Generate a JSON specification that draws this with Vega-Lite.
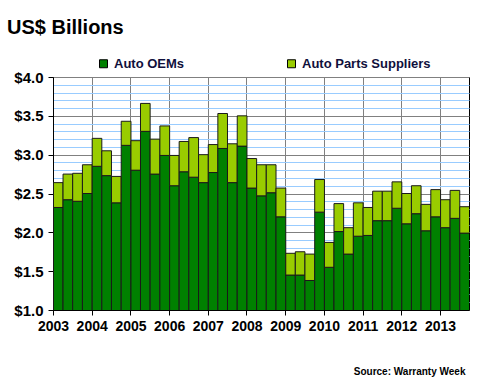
{
  "$schema": "https://vega.github.io/schema/vega-lite/v6.json",
  "width": 416,
  "height": 233,
  "autosize": {"type": "none"},
  "padding": {"left": 53, "top": 77, "right": 11, "bottom": 70},
  "background": "white",
  "title": {
    "text": "US$ Billions",
    "anchor": "start",
    "frame": "group",
    "font": "Liberation Sans",
    "fontSize": 20,
    "fontWeight": "bold",
    "color": "#000000",
    "dx": -46,
    "dy": -9,
    "offset": 10
  },
  "config": {
    "view": {"stroke": "#000000", "strokeWidth": 1},
    "axis": {"labelFont": "Liberation Sans", "titleFont": "Liberation Sans"},
    "legend": {"labelFont": "Liberation Sans"}
  },
  "data": {
    "values": [
      {"quarter": "2003-01-01", "Auto OEMs": 2.32, "Auto Parts Suppliers": 0.32},
      {"quarter": "2003-04-01", "Auto OEMs": 2.42, "Auto Parts Suppliers": 0.33},
      {"quarter": "2003-07-01", "Auto OEMs": 2.40, "Auto Parts Suppliers": 0.36},
      {"quarter": "2003-10-01", "Auto OEMs": 2.50, "Auto Parts Suppliers": 0.37},
      {"quarter": "2004-01-01", "Auto OEMs": 2.85, "Auto Parts Suppliers": 0.36},
      {"quarter": "2004-04-01", "Auto OEMs": 2.73, "Auto Parts Suppliers": 0.32},
      {"quarter": "2004-07-01", "Auto OEMs": 2.38, "Auto Parts Suppliers": 0.34},
      {"quarter": "2004-10-01", "Auto OEMs": 3.12, "Auto Parts Suppliers": 0.31},
      {"quarter": "2005-01-01", "Auto OEMs": 2.80, "Auto Parts Suppliers": 0.38},
      {"quarter": "2005-04-01", "Auto OEMs": 3.30, "Auto Parts Suppliers": 0.36},
      {"quarter": "2005-07-01", "Auto OEMs": 2.75, "Auto Parts Suppliers": 0.45},
      {"quarter": "2005-10-01", "Auto OEMs": 2.99, "Auto Parts Suppliers": 0.38},
      {"quarter": "2006-01-01", "Auto OEMs": 2.60, "Auto Parts Suppliers": 0.39},
      {"quarter": "2006-04-01", "Auto OEMs": 2.78, "Auto Parts Suppliers": 0.39},
      {"quarter": "2006-07-01", "Auto OEMs": 2.71, "Auto Parts Suppliers": 0.51},
      {"quarter": "2006-10-01", "Auto OEMs": 2.64, "Auto Parts Suppliers": 0.36},
      {"quarter": "2007-01-01", "Auto OEMs": 2.77, "Auto Parts Suppliers": 0.36},
      {"quarter": "2007-04-01", "Auto OEMs": 3.08, "Auto Parts Suppliers": 0.45},
      {"quarter": "2007-07-01", "Auto OEMs": 2.64, "Auto Parts Suppliers": 0.50},
      {"quarter": "2007-10-01", "Auto OEMs": 3.11, "Auto Parts Suppliers": 0.39},
      {"quarter": "2008-01-01", "Auto OEMs": 2.57, "Auto Parts Suppliers": 0.38},
      {"quarter": "2008-04-01", "Auto OEMs": 2.47, "Auto Parts Suppliers": 0.40},
      {"quarter": "2008-07-01", "Auto OEMs": 2.51, "Auto Parts Suppliers": 0.36},
      {"quarter": "2008-10-01", "Auto OEMs": 2.20, "Auto Parts Suppliers": 0.37},
      {"quarter": "2009-01-01", "Auto OEMs": 1.45, "Auto Parts Suppliers": 0.28},
      {"quarter": "2009-04-01", "Auto OEMs": 1.45, "Auto Parts Suppliers": 0.30},
      {"quarter": "2009-07-01", "Auto OEMs": 1.38, "Auto Parts Suppliers": 0.34},
      {"quarter": "2009-10-01", "Auto OEMs": 2.26, "Auto Parts Suppliers": 0.42},
      {"quarter": "2010-01-01", "Auto OEMs": 1.55, "Auto Parts Suppliers": 0.32},
      {"quarter": "2010-04-01", "Auto OEMs": 2.01, "Auto Parts Suppliers": 0.36},
      {"quarter": "2010-07-01", "Auto OEMs": 1.72, "Auto Parts Suppliers": 0.34},
      {"quarter": "2010-10-01", "Auto OEMs": 1.95, "Auto Parts Suppliers": 0.43},
      {"quarter": "2011-01-01", "Auto OEMs": 1.96, "Auto Parts Suppliers": 0.36},
      {"quarter": "2011-04-01", "Auto OEMs": 2.15, "Auto Parts Suppliers": 0.38},
      {"quarter": "2011-07-01", "Auto OEMs": 2.15, "Auto Parts Suppliers": 0.38},
      {"quarter": "2011-10-01", "Auto OEMs": 2.31, "Auto Parts Suppliers": 0.34},
      {"quarter": "2012-01-01", "Auto OEMs": 2.11, "Auto Parts Suppliers": 0.39},
      {"quarter": "2012-04-01", "Auto OEMs": 2.24, "Auto Parts Suppliers": 0.36},
      {"quarter": "2012-07-01", "Auto OEMs": 2.02, "Auto Parts Suppliers": 0.34},
      {"quarter": "2012-10-01", "Auto OEMs": 2.20, "Auto Parts Suppliers": 0.35},
      {"quarter": "2013-01-01", "Auto OEMs": 2.06, "Auto Parts Suppliers": 0.36},
      {"quarter": "2013-04-01", "Auto OEMs": 2.18, "Auto Parts Suppliers": 0.36},
      {"quarter": "2013-07-01", "Auto OEMs": 1.99, "Auto Parts Suppliers": 0.34}
    ]
  },
  "transform": [
    {"fold": ["Auto OEMs", "Auto Parts Suppliers"], "as": ["series", "value"]}
  ],
  "mark": {"type": "bar", "stroke": "#1a1a1a", "strokeWidth": 1, "clip": true, "binSpacing": 0},
  "encoding": {
    "x": {
      "field": "quarter",
      "type": "temporal",
      "timeUnit": "yearquarter",
      "scale": {
        "domain": [{"year": 2003, "month": 1, "date": 1}, {"year": 2013, "month": 10, "date": 1}],
        "nice": false
      },
      "axis": {
        "values": [
          {"year": 2003, "month": 1, "date": 1}, {"year": 2004, "month": 1, "date": 1},
          {"year": 2005, "month": 1, "date": 1}, {"year": 2006, "month": 1, "date": 1},
          {"year": 2007, "month": 1, "date": 1}, {"year": 2008, "month": 1, "date": 1},
          {"year": 2009, "month": 1, "date": 1}, {"year": 2010, "month": 1, "date": 1},
          {"year": 2011, "month": 1, "date": 1}, {"year": 2012, "month": 1, "date": 1},
          {"year": 2013, "month": 1, "date": 1}
        ],
        "format": "%Y",
        "formatType": "time",
        "labelFontSize": 14,
        "labelFontWeight": "bold",
        "labelColor": "#000000",
        "labelAlign": "center",
        "labelDx": 4,
        "labelPadding": 4,
        "labelFlush": false,
        "labelOverlap": false,
        "tickColor": "#000000",
        "tickSize": 5,
        "domainColor": "#000000",
        "grid": true,
        "gridColor": "#808080",
        "gridWidth": 1,
        "gridOpacity": 1,
        "title": "Source: Warranty Week",
        "titleFontSize": 10,
        "titleFontWeight": "bold",
        "titleColor": "#000000",
        "titleAnchor": "end",
        "titleAlign": "right",
        "titleBaseline": "alphabetic",
        "titleX": 412,
        "titleY": 64
      }
    },
    "y": {
      "field": "value",
      "type": "quantitative",
      "stack": "zero",
      "scale": {"domain": [1, 4], "zero": false, "nice": false},
      "axis": {
        "values": [1.0, 1.1, 1.2, 1.3, 1.4, 1.5, 1.6, 1.7, 1.8, 1.9, 2.0, 2.1, 2.2, 2.3, 2.4, 2.5, 2.6, 2.7, 2.8, 2.9, 3.0, 3.1, 3.2, 3.3, 3.4, 3.5, 3.6, 3.7, 3.8, 3.9, 4.0],
        "labelExpr": "round(datum.value * 10) % 5 === 0 ? '$' + format(datum.value, '.1f') : ''",
        "labelFontSize": 15,
        "labelFontWeight": "bold",
        "labelColor": "#000000",
        "labelPadding": 5,
        "labelOverlap": false,
        "tickColor": "#000000",
        "tickSize": 5,
        "tickOpacity": {"condition": {"test": "round(datum.value * 10) % 5 === 0", "value": 1}, "value": 0},
        "domainColor": "#000000",
        "grid": true,
        "gridColor": {"condition": {"test": "round(datum.value * 10) % 5 === 0", "value": "#808080"}, "value": "#99ccff"},
        "gridWidth": 1,
        "gridOpacity": 1,
        "title": null
      }
    },
    "color": {
      "field": "series",
      "type": "nominal",
      "scale": {"domain": ["Auto OEMs", "Auto Parts Suppliers"], "range": ["#008000", "#99cc00"]},
      "legend": {
        "title": null,
        "orient": "none",
        "direction": "horizontal",
        "legendX": 44,
        "legendY": -20,
        "padding": 0,
        "columnPadding": 100,
        "symbolType": "square",
        "symbolSize": 64,
        "symbolStrokeColor": "#000000",
        "symbolStrokeWidth": 1,
        "symbolOpacity": 1,
        "labelFontSize": 13,
        "labelFontWeight": "bold",
        "labelColor": "#10103c",
        "labelOffset": 4
      }
    },
    "order": {"field": "series", "sort": "ascending"}
  }
}
